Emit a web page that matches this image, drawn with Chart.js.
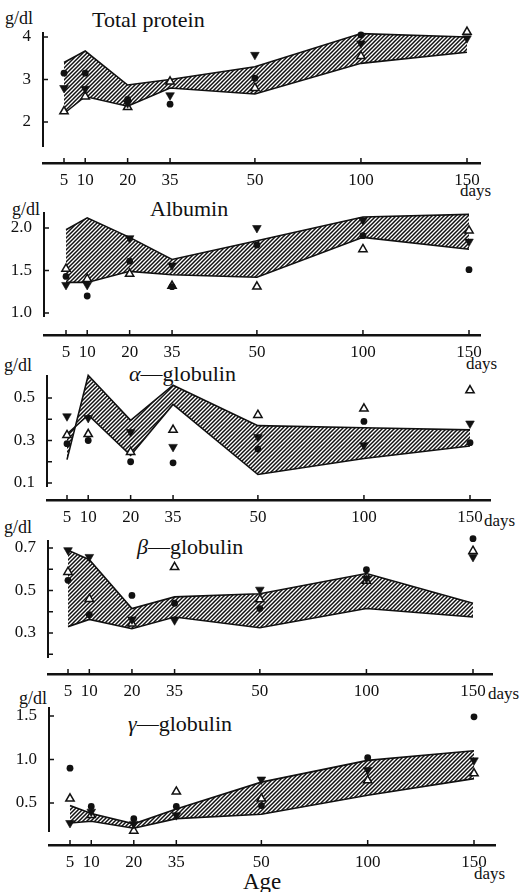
<!DOCTYPE html>
<html><head><meta charset="utf-8">
<script src="https://cdn.jsdelivr.net/npm/chart.js@4.4.1/dist/chart.umd.min.js"></script>
<style>
body{margin:0;background:#fff;width:521px;height:892px;position:relative;overflow:hidden;font-family:"Liberation Serif","DejaVu Serif",serif;color:#111}
canvas{position:absolute;left:0}
.t{position:absolute;white-space:nowrap;line-height:1}
.ttl{font-size:22px}
.u{font-size:18px}
.d{font-size:17px}
</style></head><body>
<div class="t u" style="left:5px;top:9px">g/dl</div>
<div class="t ttl" style="left:92px;top:9px">Total protein</div>
<div class="t d" style="left:460px;top:182px">days</div>

<div class="t u" style="left:12px;top:200px">g/dl</div>
<div class="t ttl" style="left:150px;top:198px">Albumin</div>
<div class="t d" style="left:466px;top:355px">days</div>

<div class="t u" style="left:4px;top:356px">g/dl</div>
<div class="t ttl" style="left:129px;top:363px"><i>α</i>—globulin</div>
<div class="t d" style="left:484px;top:512px">days</div>

<div class="t u" style="left:4px;top:518px">g/dl</div>
<div class="t ttl" style="left:137px;top:536px"><i>β</i>—globulin</div>
<div class="t d" style="left:488px;top:685px">days</div>

<div class="t u" style="left:19px;top:689px">g/dl</div>
<div class="t ttl" style="left:128px;top:713px"><i>γ</i>—globulin</div>
<div class="t d" style="left:474px;top:865px">days</div>
<div class="t" style="left:243px;top:870px;font-size:23px">Age</div>

<script>
// ---- data ----
const ages = [5, 10, 20, 35, 50, 100, 150];
// break positions of the uneven age axis of the original figure
const ageAxisPos = [0, 1, 3, 5, 9, 14, 19];

// Total protein (g/dl)
const tpUpper  = [3.40, 3.67, 2.87, 3.00, 3.30, 4.08, 4.00];
const tpLower  = [2.20, 2.60, 2.37, 2.80, 2.66, 3.38, 3.64];
const tpCircle = [3.15, 3.15, 2.53, 2.42, 3.03, 4.05, 4.22];
const tpDown   = [2.80, 2.78, 2.44, 2.63, 3.58, 3.85, 3.97];
const tpOpen   = [2.25, 2.60, 2.35, 2.95, 2.80, 3.55, 4.12];
const tpTicks  = [2, 3, 4];
const tpLabels = ['2', '3', '4'];

// Albumin
const alUpper  = [1.98, 2.12, 1.89, 1.63, 1.85, 2.13, 2.16];
const alLower  = [1.36, 1.36, 1.49, 1.45, 1.42, 1.89, 1.75];
const alCircle = [1.43, 1.20, 1.61, 1.31, 1.80, 1.91, 1.51];
const alDown   = [1.33, 1.33, 1.88, 1.56, 2.00, 2.09, 1.84];
const alOpen   = [1.52, 1.40, 1.46, 1.32, 1.31, 1.75, 1.97];
const alTicks  = [1.0, 1.5, 2.0];
const alLabels = ['1.0', '1.5', '2.0'];

// alpha-globulin
const aUpper  = [0.21, 0.607, 0.395, 0.56, 0.37, 0.36, 0.35];
const aLower  = [0.33, 0.42, 0.23, 0.47, 0.14, 0.215, 0.274];
const aCircle = [0.285, 0.30, 0.20, 0.195, 0.26, 0.39, 0.29];
const aDown   = [0.414, 0.406, 0.34, 0.27, 0.316, 0.278, 0.38];
const aOpen   = [0.325, 0.33, 0.246, 0.35, 0.42, 0.45, 0.536];
const aTicks  = [0.1, 0.2, 0.3, 0.4, 0.5];
const aLabels = ['0.1', '', '0.3', '', '0.5'];

// beta-globulin
const bUpper  = [0.69, 0.645, 0.415, 0.47, 0.485, 0.58, 0.44];
const bLower  = [0.33, 0.364, 0.32, 0.375, 0.325, 0.415, 0.375];
const bCircle = [0.548, 0.386, 0.477, 0.44, 0.415, 0.598, 0.744];
const bDown   = [0.69, 0.658, 0.364, 0.36, 0.504, 0.556, 0.658];
const bOpen   = [0.587, 0.46, 0.344, 0.61, 0.458, 0.545, 0.686];
const bTicks  = [0.2, 0.3, 0.4, 0.5, 0.6, 0.7];
const bLabels = ['', '0.3', '', '0.5', '', '0.7'];

// gamma-globulin
const gUpper  = [0.47, 0.38, 0.26, 0.43, 0.74, 0.99, 1.10];
const gLower  = [0.27, 0.29, 0.21, 0.32, 0.37, 0.59, 0.78];
const gCircle = [0.90, 0.46, 0.32, 0.46, 0.47, 1.02, 1.49];
const gDown   = [0.27, 0.40, 0.26, 0.36, 0.77, 0.88, 0.99];
const gOpen   = [0.55, 0.36, 0.18, 0.63, 0.55, 0.76, 0.84];
const gTicks  = [0.5, 1.0, 1.5];
const gLabels = ['0.5', '1.0', '1.5'];

// ---- layout of the five panels (page pixels) ----
const panels = [
  {top:0,   h:200, areaTop:32,  axisY:163, yEnd:147, axisLeft:43, axisRight:480, x5:64, x150:467, r1:[4,37],   r2:[2,122],
   up:tpUpper, lo:tpLower, c:tpCircle, dn:tpDown, op:tpOpen, ticks:tpTicks, labels:tpLabels},
  {top:192, h:170, areaTop:212, axisY:335, yEnd:317, axisLeft:44, axisRight:480, x5:66, x150:469, r1:[2.0,228], r2:[1.0,313],
   up:alUpper, lo:alLower, c:alCircle, dn:alDown, op:alOpen, ticks:alTicks, labels:alLabels},
  {top:355, h:170, areaTop:375, axisY:500, yEnd:487, axisLeft:47, axisRight:490, x5:67, x150:470, r1:[0.5,398], r2:[0.1,483],
   up:aUpper, lo:aLower, c:aCircle, dn:aDown, op:aOpen, ticks:aTicks, labels:aLabels},
  {top:520, h:178, areaTop:540, axisY:674, yEnd:658, axisLeft:48, axisRight:492, x5:68, x150:473, r1:[0.7,548], r2:[0.3,633],
   up:bUpper, lo:bLower, c:bCircle, dn:bDown, op:bOpen, ticks:bTicks, labels:bLabels},
  {top:692, h:200, areaTop:707, axisY:845, yEnd:832, axisLeft:49, axisRight:495, x5:70, x150:474, r1:[1.5,716], r2:[0.5,803],
   up:gUpper, lo:gLower, c:gCircle, dn:gDown, op:gOpen, ticks:gTicks, labels:gLabels}
];

const INK = '#111';
const FONT = {family: "'Liberation Serif', 'DejaVu Serif', serif", size: 17};

function hatchPattern(ctx) {
  const s = 4;
  const c = document.createElement('canvas');
  c.width = s; c.height = s;
  const g = c.getContext('2d');
  g.strokeStyle = INK; g.lineWidth = 1.5;
  g.beginPath();
  g.moveTo(0, s); g.lineTo(s, 0);
  g.moveTo(-1, 1); g.lineTo(1, -1);
  g.moveTo(s - 1, s + 1); g.lineTo(s + 1, s - 1);
  g.stroke();
  return ctx.createPattern(c, 'repeat');
}

const axisDecor = {
  id: 'axisDecor',
  beforeDatasetsDraw(chart, args, opts) {
    const {ctx, scales: {x, y}} = chart;
    ctx.save();
    ctx.strokeStyle = INK;
    const xl = chart.chartArea.left;
    ctx.lineWidth = 2;
    ctx.beginPath();
    ctx.moveTo(xl, y.getPixelForValue(y.max));
    ctx.lineTo(xl, y.getPixelForValue(opts.yEnd));
    ctx.stroke();
    ctx.lineWidth = 1.5;
    opts.ticks.forEach(v => {
      const py = y.getPixelForValue(v);
      ctx.beginPath(); ctx.moveTo(xl, py); ctx.lineTo(xl + 5, py); ctx.stroke();
    });
    const ay = chart.chartArea.bottom;
    ageAxisPos.forEach(p => {
      const px = x.getPixelForValue(p);
      ctx.beginPath(); ctx.moveTo(px, ay); ctx.lineTo(px, ay - 5); ctx.stroke();
    });
    ctx.restore();
  }
};

const pts = arr => arr.map((v, i) => ({x: ageAxisPos[i], y: v}));

panels.forEach(p => {
  const cv = document.createElement('canvas');
  cv.width = 521; cv.height = p.h;
  cv.style.top = p.top + 'px';
  document.body.appendChild(cv);
  const ctx = cv.getContext('2d');

  const unit = (p.x150 - p.x5) / ageAxisPos[ageAxisPos.length - 1];
  const xMin = (p.axisLeft - p.x5) / unit;
  const xMax = (p.axisRight - p.x5) / unit;
  const ppu = (p.r2[1] - p.r1[1]) / (p.r1[0] - p.r2[0]);
  const yMax = p.r1[0] + (p.r1[1] - p.areaTop) / ppu;
  const yMin = p.r1[0] - (p.axisY - p.r1[1]) / ppu;
  const yEndVal = p.r1[0] - (p.yEnd - p.r1[1]) / ppu;

  const hatch = hatchPattern(ctx);

  new Chart(ctx, {
    type: 'line',
    data: {
      datasets: [
        {data: pts(p.c), showLine: false, pointStyle: 'circle', pointRadius: 3.4,
         pointBackgroundColor: INK, pointBorderWidth: 0, order: 0, clip: false},
        {data: pts(p.dn), showLine: false, pointStyle: 'triangle', pointRotation: 180, pointRadius: 5,
         pointBackgroundColor: INK, pointBorderColor: INK, pointBorderWidth: 0.6, order: 0, clip: false},
        {data: pts(p.op), showLine: false, pointStyle: 'triangle', pointRadius: 4.8,
         pointBackgroundColor: '#fff', pointBorderColor: INK, pointBorderWidth: 1.5, order: 0, clip: false},
        {data: pts(p.up), borderColor: INK, borderWidth: 1.6, pointRadius: 0, tension: 0,
         fill: '+1', backgroundColor: hatch, order: 5, clip: false},
        {data: pts(p.lo), borderColor: INK, borderWidth: 1.6, pointRadius: 0, tension: 0,
         fill: false, order: 5, clip: false}
      ]
    },
    options: {
      responsive: false,
      animation: false,
      events: [],
      layout: {padding: {top: p.areaTop - p.top, right: 521 - p.axisRight, left: 0, bottom: 0}},
      plugins: {
        legend: {display: false},
        tooltip: {enabled: false},
        axisDecor: {yEnd: yEndVal, ticks: p.ticks}
      },
      scales: {
        x: {
          type: 'linear', min: xMin, max: xMax,
          afterBuildTicks: s => { s.ticks = ageAxisPos.map(v => ({value: v})); },
          afterFit: s => { s.height = p.top + p.h - p.axisY; },
          ticks: {
            autoSkip: false, maxRotation: 0, color: INK, font: FONT, padding: 7,
            callback: v => { const i = ageAxisPos.indexOf(v); return i >= 0 ? String(ages[i]) : ''; }
          },
          grid: {display: true, drawOnChartArea: false, drawTicks: false},
          border: {display: true, color: INK, width: 2.5}
        },
        y: {
          type: 'linear', min: yMin, max: yMax,
          afterBuildTicks: s => { s.ticks = p.ticks.map(v => ({value: v})); },
          afterFit: s => { s.width = p.axisLeft; },
          ticks: {
            color: INK, font: FONT, padding: 4,
            callback: v => { const i = p.ticks.findIndex(t => Math.abs(t - v) < 1e-9); return i >= 0 ? p.labels[i] : ''; }
          },
          grid: {display: false},
          border: {display: false}
        }
      }
    },
    plugins: [axisDecor]
  });
});
</script>
</body></html>
